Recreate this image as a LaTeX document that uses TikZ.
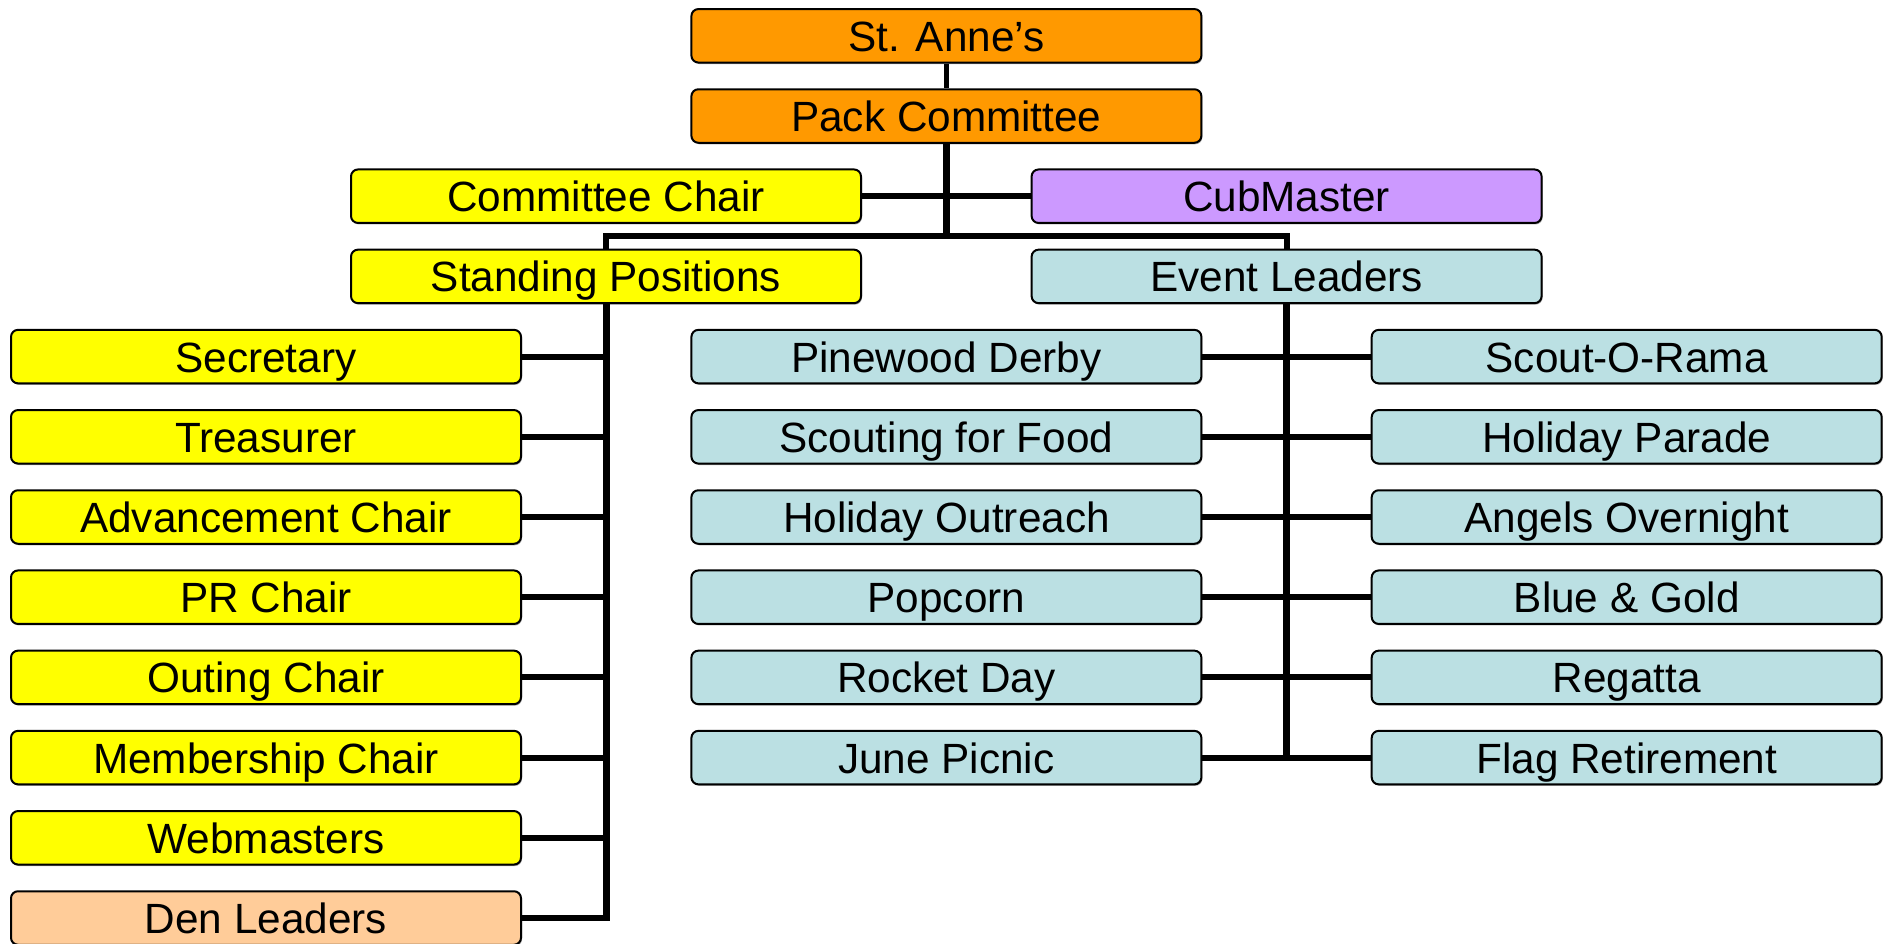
\documentclass[tikz,border=0pt]{standalone}
\usepackage{fontspec}
\setmainfont{Liberation Sans}
\usetikzlibrary{shadows}
\definecolor{cOrange}{RGB}{255,153,0}
\definecolor{cYellow}{RGB}{255,255,0}
\definecolor{cPurple}{RGB}{204,153,255}
\definecolor{cBlue}{RGB}{187,224,227}
\definecolor{cPeach}{RGB}{255,204,153}
\tikzset{
  box/.style={draw=black, line width=2pt, rounded corners=7pt, inner sep=0pt,
    minimum width=510pt, minimum height=53.5pt, text height=40pt, text depth=9pt,
    font=\fontsize{42.3}{50}\selectfont,
    drop shadow={shadow xshift=1pt, shadow yshift=-1.5pt, fill=gray!70, opacity=1}},
  orgbox/.style={box, fill=cOrange},
  yelbox/.style={box, fill=cYellow},
  purbox/.style={box, fill=cPurple},
  blubox/.style={box, fill=cBlue},
  pchbox/.style={box, fill=cPeach},
  hconn/.style={line width=6pt, black},
  vconn/.style={line width=7pt, black},
}
\begin{document}
\begin{tikzpicture}[x=1pt, y=-1pt]
\useasboundingbox (0,0) rectangle (1890,943);
\coordinate (j) at (946.4,236);
% top level
\node[orgbox] (stanne) at (946.4,35.8) {St. Anne’s};
\node[orgbox] (pack) at (946.4,116.0) {Pack Committee};
\node[yelbox] (cchair) at (606,196.2) {Committee Chair};
\node[purbox] (cubm) at (1286.6,196.2) {CubMaster};
\node[yelbox] (standing) at (606,276.4) {Standing Positions};
\node[blubox] (event) at (1286.6,276.4) {Event Leaders};
% left column
\node[yelbox] (sec) at (266,356.6) {Secretary};
\node[yelbox] (tre) at (266,436.8) {Treasurer};
\node[yelbox] (adv) at (266,517.0) {Advancement Chair};
\node[yelbox] (prc) at (266,597.2) {PR Chair};
\node[yelbox] (out) at (266,677.4) {Outing Chair};
\node[yelbox] (mem) at (266,757.6) {Membership Chair};
\node[yelbox] (web) at (266,837.8) {Webmasters};
\node[pchbox] (den) at (266,918.0) {Den Leaders};
% middle column
\node[blubox] (pine) at (946.4,356.6) {Pinewood Derby};
\node[blubox] (food) at (946.4,436.8) {Scouting for Food};
\node[blubox] (outr) at (946.4,517.0) {Holiday Outreach};
\node[blubox] (pop) at (946.4,597.2) {Popcorn};
\node[blubox] (rock) at (946.4,677.4) {Rocket Day};
\node[blubox] (june) at (946.4,757.6) {June Picnic};
% right column
\node[blubox] (sor) at (1626.7,356.6) {Scout-O-Rama};
\node[blubox] (par) at (1626.7,436.8) {Holiday Parade};
\node[blubox] (ang) at (1626.7,517.0) {Angels Overnight};
\node[blubox] (bg) at (1626.7,597.2) {Blue \& Gold};
\node[blubox] (reg) at (1626.7,677.4) {Regatta};
\node[blubox] (flag) at (1626.7,757.6) {Flag Retirement};
% connectors
\draw[line width=4.5pt] (stanne.south) -- (pack.north);
\draw[vconn] (pack.south) -- (j);
\draw[hconn] (cchair.east) -- (cubm.west);
\draw[hconn, line join=miter] (standing.north) |- (j) -| (event.north);
\draw[vconn] (standing.south) -- ([yshift=-3pt]standing.south |- den.east);
\foreach \n in {sec,tre,adv,prc,out,mem,web,den}
  \draw[hconn] (\n.east) -- (\n.east -| standing.south);
\draw[vconn] (event.south) -- ([yshift=-3pt]event.south |- june.east);
\draw[hconn] (pine.east) -- (sor.west);
\draw[hconn] (food.east) -- (par.west);
\draw[hconn] (outr.east) -- (ang.west);
\draw[hconn] (pop.east) -- (bg.west);
\draw[hconn] (rock.east) -- (reg.west);
\draw[hconn] (june.east) -- (flag.west);
\end{tikzpicture}
\end{document}
